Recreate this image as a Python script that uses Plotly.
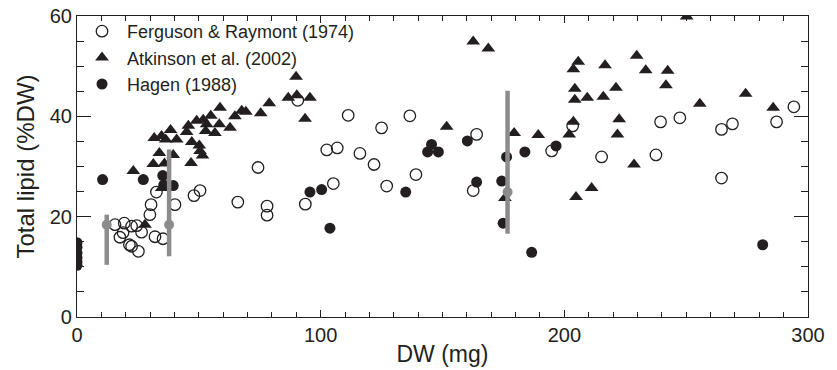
import plotly.graph_objects as go

# Ferguson & Raymont (1974) - open circles
fr_x = [15.6, 19.4, 22.4, 24.5, 26.5, 17.6, 18.9, 21.5, 22.4, 25.2, 29.9, 30.4, 32.6, 32.0, 35.3,
        40.2, 48.0, 50.5, 66.0, 74.3, 78.0, 78.0, 90.6, 93.7, 102.5, 105.2, 106.8, 111.3, 116.1,
        121.9, 125.0, 127.1, 136.6, 139.1, 162.6, 164.0, 194.8, 203.4, 215.3, 237.6, 239.5,
        247.4, 264.5, 264.5, 269.0, 287.1, 294.2]
fr_y = [18.4, 18.7, 18.1, 18.2, 16.9, 15.9, 16.8, 14.4, 14.1, 13.1, 20.4, 22.4, 24.9, 16.0, 15.6,
        22.4, 24.2, 25.2, 22.9, 29.8, 22.1, 20.3, 43.2, 22.5, 33.3, 26.6, 33.7, 40.2, 32.6,
        30.4, 37.7, 26.1, 40.1, 28.4, 25.2, 36.4, 33.1, 38.1, 31.9, 32.3, 38.9,
        39.7, 37.4, 27.7, 38.5, 38.9, 41.9]

# Atkinson et al. (2002) - filled triangles
at_x = [23.1, 27.9, 31.3, 31.7, 33.8, 34.7, 34.8, 35.9, 36.4, 38.4, 39.5, 40.9, 45.0, 45.7, 46.8,
        47.1, 49.1, 50.2, 50.5, 51.5, 51.8, 52.8, 53.2, 54.9, 56.6, 58.4, 58.7, 62.8, 64.8, 67.6,
        69.3, 75.4, 78.9, 86.7, 89.9, 90.2, 93.6, 95.6, 151.7, 162.6, 168.8, 175.6, 179.4, 189.3,
        202.0, 203.7, 203.7, 204.3, 204.3, 204.8, 205.7, 209.4, 211.2, 216.0, 216.7, 221.2, 221.8,
        222.5, 228.6, 229.7, 233.4, 241.7, 242.4, 250.2, 255.6, 274.4, 285.7]
at_y = [29.1, 18.4, 30.5, 35.7, 32.7, 36.1, 25.7, 30.6, 35.4, 37.3, 32.3, 35.4, 36.9, 38.1, 30.7,
        34.9, 39.1, 34.2, 33.1, 32.2, 39.3, 37.1, 38.4, 40.1, 36.7, 38.4, 41.7, 37.7, 40.0, 41.1,
        40.9, 40.6, 42.6, 43.7, 47.9, 44.2, 39.5, 43.7, 37.9, 54.9, 53.5, 23.7, 36.7, 36.3,
        36.4, 38.9, 49.4, 45.5, 43.3, 23.9, 50.9, 43.7, 25.7, 43.9, 50.2, 45.7, 36.4,
        39.4, 30.4, 52.1, 49.2, 46.2, 49.1, 59.9, 42.5, 44.5, 41.7]

# Hagen (1988) - filled circles
ha_x = [0, 0, 0, 0, 0, 0, 10.5, 27.2, 35.2, 35.6, 39.5, 95.6, 100.4, 103.8, 134.9, 143.9, 145.5,
        148.3, 160.2, 164.0, 174.3, 174.9, 176.3, 183.8, 186.6, 196.6, 281.4]
ha_y = [14.8, 13.9, 12.8, 11.8, 11.0, 10.3, 27.4, 27.4, 28.2, 26.3, 26.2, 24.9, 25.4, 17.7, 24.9,
        32.9, 34.4, 32.9, 35.1, 26.9, 27.1, 18.7, 31.9, 32.9, 12.9, 34.1, 14.4]

# Grey summary points with ranges
gr_x = [12.2, 37.8, 176.7]
gr_mean = [18.4, 18.4, 24.9]
gr_lo = [10.4, 12.1, 16.6]
gr_hi = [20.4, 33.4, 45.1]

INK = "#231f20"
GREY = "#8c8c8c"
FONT = "Liberation Sans, Arial, Helvetica, sans-serif"

fig = go.Figure()
fig.add_trace(go.Scatter(x=fr_x, y=fr_y, mode="markers", name="Ferguson & Raymont (1974)",
                         marker=dict(symbol="circle-open", size=11.5, color=INK, line=dict(width=1.3, color=INK))))
fig.add_trace(go.Scatter(x=at_x, y=at_y, mode="markers", name="Atkinson et al. (2002)",
                         marker=dict(symbol="triangle-up", size=12, color=INK, line=dict(width=0))))
fig.add_trace(go.Scatter(x=ha_x, y=ha_y, mode="markers", name="Hagen (1988)",
                         marker=dict(symbol="circle", size=11, color=INK, line=dict(width=0))))
fig.add_trace(go.Scatter(x=gr_x, y=gr_mean, mode="markers", showlegend=False,
                         marker=dict(symbol="circle", size=10, color=GREY),
                         error_y=dict(type="data", symmetric=False,
                                      array=[h - m for h, m in zip(gr_hi, gr_mean)],
                                      arrayminus=[m - l for m, l in zip(gr_mean, gr_lo)],
                                      color=GREY, thickness=4.5, width=0)))

axis_common = dict(showline=True, linecolor=INK, linewidth=1.2, mirror="allticks",
                   ticks="inside", tickcolor=INK, tickwidth=1.2, showgrid=False, zeroline=False,
                   automargin=False, ticklabeloverflow="allow",
                   tickfont=dict(family=FONT, size=20, color=INK))

fig.update_xaxes(range=[0, 300], tickvals=[0, 100, 200, 300], ticklen=7,
                 minor=dict(dtick=10, tick0=0, ticks="inside", ticklen=5, tickcolor=INK, tickwidth=1.2),
                 title=dict(text="DW (mg)", font=dict(family=FONT, size=23, color=INK), standoff=0),
                 **axis_common)
fig.update_yaxes(range=[0, 60], tickvals=[0, 20, 40, 60], ticklen=14,
                 minor=dict(dtick=5, tick0=0, ticks="inside", ticklen=7, tickcolor=INK, tickwidth=1.2),
                 title=dict(text="Total lipid (%DW)", font=dict(family=FONT, size=24, color=INK), standoff=8),
                 **axis_common)

fig.update_layout(
    width=837, height=370,
    margin=dict(l=77, r=29, t=16, b=53, autoexpand=False),
    plot_bgcolor="white", paper_bgcolor="white",
    font=dict(family=FONT, color=INK),
    legend=dict(x=0.0, y=1.01, xanchor="left", yanchor="top", bgcolor="rgba(0,0,0,0)",
                font=dict(family=FONT, size=18, color=INK), tracegroupgap=0, itemwidth=40),
)

fig.write_html("out.html", config={"displayModeBar": False},
               post_script="document.body.style.margin='0';")
